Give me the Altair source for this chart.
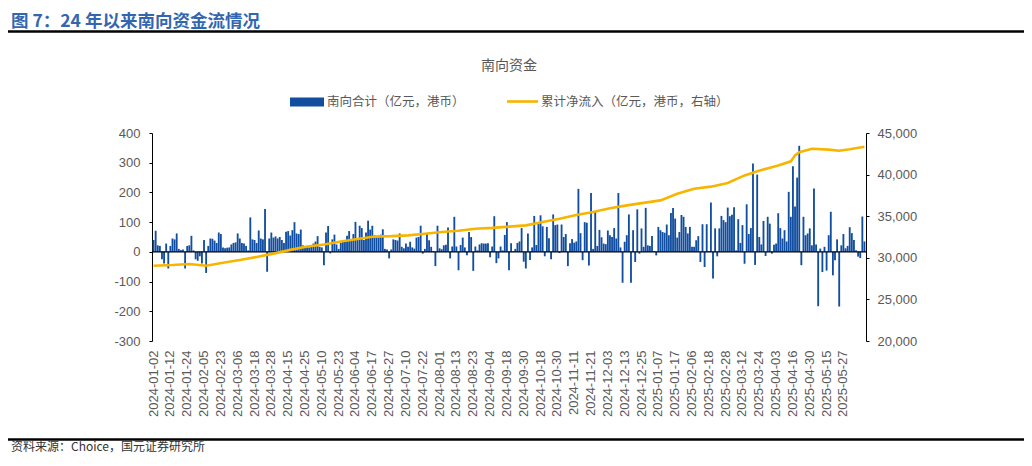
import json
import altair as alt
import pandas as pd

# daily southbound net flow (亿港元), trading-day index 0..338
flow = [
    40, 71, 22, 20, -25, -39, 28, -56,
    20, 45, 42, 62, 10, 6, 8, -56,
    20, 22, 54, 5, -25, -30, -15, -39,
    40, -71, 20, 45, 44, 38, 30, 65,
    60, 15, 12, 14, 15, 25, 30, 32,
    62, 45, 30, 28, 20, 5, 116, 42,
    40, 30, 72, 45, 42, 144, -67, 45,
    65, 48, 52, 45, 50, 40, 30, 68,
    70, 55, 73, 100, 62, 60, 75, 22,
    17, 18, 15, 20, 28, 35, 53, 17,
    15, -45, 65, 87, -5, 42, 58, 25,
    10, 30, 35, 40, 54, 70, 42, 60,
    101, 40, 88, 80, 40, 65, 105, 75,
    88, 56, 50, 55, 58, 76, 10, 8,
    -22, 8, 42, 40, 38, 62, 17, 12,
    28, 17, 34, 15, 11, 48, 50, 88,
    -6, 10, 60, 39, 17, 3, -48, 88,
    12, 9, 22, 24, 82, -22, 18, 118,
    18, -62, 23, 48, 15, -11, 67, 50,
    -64, 18, 5, 25, 29, 28, 28, 29,
    -18, 18, 120, -38, -22, 18, 5, 57,
    100, -62, 29, 2, 10, 30, 35, 80,
    -33, -56, 62, -27, 15, 121, 23, 100,
    123, 86, -15, 84, 46, -25, 126, 90,
    92, -4, 92, 50, 60, -48, 29, 43,
    31, 35, 212, 63, -28, 100, 98, -46,
    198, 10, 134, 20, 74, 49, 28, 26,
    72, 56, 50, 80, 45, 198, 15, -104,
    34, 56, 126, -104, 73, -34, 143, -6,
    79, 17, 148, 22, 20, 53, 3, -12,
    84, 73, 67, 64, 92, 56, 131, 148,
    112, 48, 67, 124, 118, 84, 62, 84,
    17, 17, 39, 53, -34, 93, -51, 93,
    3, 166, -90, 79, -15, 79, 121, 107,
    100, 149, 120, 125, 150, 5, 110, 30,
    90, -40, 160, 60, 80, 297, -44, 260,
    50, 25, 104, -14, 118, 95, -6, 24,
    28, 130, 80, 45, 73, 35, 202, 118,
    288, 153, 250, 357, -45, 118, 56, 62,
    79, 22, 213, 25, -183, 11, -68, 17,
    -63, 56, 135, -79, -28, 42, -184, 22,
    60, 12, 20, 83, 63, 40, 5, -16,
    -21, 119, 35,
]

# cumulative net inflow (亿港元, right axis), read at selected trading days
cum_day = [0, 9, 17, 25, 33, 41, 49, 57, 65, 73, 81, 89, 97, 105, 113, 121, 129,
           137, 145, 153, 161, 169, 177, 185, 193, 201, 209, 217, 225, 233, 241,
           249, 257, 265, 273, 281, 289, 297, 303, 305, 307, 313, 321, 326, 331, 338]
cum_val = [29050, 29130, 29250, 29050, 29400, 29730, 30100, 30500, 30950, 31350,
           31600, 31950, 32250, 32550, 32600, 32700, 32900, 33100, 33250, 33500,
           33600, 33750, 33900, 34300, 34700, 35150, 35500, 35950, 36300, 36600,
           36900, 37700, 38300, 38550, 39000, 39900, 40550, 41100, 41600, 42300,
           42700, 43100, 43000, 42870, 43050, 43350]

tick_labels = ["2024-01-02", "2024-01-12", "2024-01-24", "2024-02-05", "2024-02-23",
               "2024-03-06", "2024-03-18", "2024-03-28", "2024-04-15", "2024-04-25",
               "2024-05-10", "2024-05-23", "2024-06-04", "2024-06-17", "2024-06-27",
               "2024-07-10", "2024-07-22", "2024-08-01", "2024-08-13", "2024-08-23",
               "2024-09-04", "2024-09-18", "2024-09-30", "2024-10-18", "2024-10-30",
               "2024-11-11", "2024-11-21", "2024-12-03", "2024-12-13", "2024-12-25",
               "2025-01-07", "2025-01-17", "2025-02-06", "2025-02-18", "2025-02-28",
               "2025-03-12", "2025-03-24", "2025-04-03", "2025-04-16", "2025-04-30",
               "2025-05-15", "2025-05-27"]

left_ticks = [-300, -200, -100, 0, 100, 200, 300, 400]
right_ticks = [20000, 25000, 30000, 35000, 40000, 45000]

BLUE = "#124EA0"
GOLD = "#F7B500"
GRAY = "#595959"
CJK = "Noto Sans CJK SC"
LAT = "Liberation Sans"

N = len(flow)
bars_df = pd.DataFrame({"i": list(range(N)), "flow": flow})
line_df = pd.DataFrame({"i": cum_day, "cum": cum_val})
zero_df = pd.DataFrame({"flow": [0]})
one = pd.DataFrame({"a": [0]})

label_expr = json.dumps(tick_labels) + "[datum.value / 8]"

x_enc = alt.X(
    "i:O",
    scale=alt.Scale(domain=list(range(N)), paddingInner=0.12, paddingOuter=0.3),
    axis=alt.Axis(
        values=list(range(0, N, 8)), labelExpr=label_expr, labelAngle=-90,
        domain=False, ticks=False, labelPadding=9, labelOverlap=False,
        labelFontSize=13, labelFont=LAT, labelColor=GRAY, title=None,
    ),
)

def left_y():
    return alt.Y(
        "flow:Q",
        scale=alt.Scale(domain=[-300, 400], nice=False, zero=False),
        axis=alt.Axis(values=left_ticks, title=None, grid=False, domainColor="#000000",
                      tickColor="#000000", tickSize=3, labelPadding=9, labelOverlap=False,
                      labelExpr="'' + datum.value",
                      labelFontSize=13, labelFont=LAT, labelColor=GRAY),
    )

bars = alt.Chart(bars_df).mark_bar(color=BLUE).encode(x=x_enc, y=left_y())
zero_rule = alt.Chart(zero_df).mark_rule(color="#000000", strokeWidth=1.2).encode(y=left_y())
left_layer = alt.layer(bars, zero_rule)

line = alt.Chart(line_df).mark_line(color=GOLD, strokeWidth=2.6).encode(
    x=alt.X("i:O"),
    y=alt.Y(
        "cum:Q",
        scale=alt.Scale(domain=[20000, 45000], nice=False, zero=False),
        axis=alt.Axis(orient="right", values=right_ticks, title=None, grid=False,
                      labelExpr="format(datum.value, ',')", labelOverlap=False,
                      domainColor="#000000", tickColor="#000000", tickSize=3, labelPadding=8,
                      labelFontSize=13, labelFont=LAT, labelColor=GRAY),
    ),
)

def txt(s, x, y, size, color, font=CJK, weight="normal", align="left"):
    return alt.Chart(one).mark_text(
        text=s, fontSize=size, color=color, font=font, fontWeight=weight,
        align=align, baseline="middle",
    ).encode(x=alt.value(x), y=alt.value(y))

def hrule(x1, x2, y, w, color):
    return alt.Chart(one).mark_rule(color=color, strokeWidth=w).encode(
        x=alt.value(x1), x2=alt.value(x2), y=alt.value(y))

heading = txt("图 7：24 年以来南向资金流情况", -141, -111.5, 17.5, "#3366B0", weight="bold")
top_line = hrule(-144, 878, -101.5, 2.5, "#000000")
title = txt("南向资金", 357, -67, 14, GRAY, align="center")
leg_rect = alt.Chart(one).mark_rect(color=BLUE).encode(
    x=alt.value(138), x2=alt.value(172), y=alt.value(-35.5), y2=alt.value(-26.5))
leg_t1 = txt("南向合计（亿元，港币）", 175, -31, 12.5, GRAY)
leg_line = hrule(355, 386, -31.5, 2.6, GOLD)
leg_t2 = txt("累计净流入（亿元，港币，右轴）", 389, -31, 12.5, GRAY)
bottom_line = hrule(-144, 878, 306.5, 2.5, "#000000")
source = txt("资料来源：Choice，国元证券研究所", -141, 313.5, 12, "#333333")

chart = alt.layer(
    left_layer, line,
    heading, top_line, title, leg_rect, leg_t1, leg_line, leg_t2, bottom_line, source,
).resolve_scale(y="independent").properties(
    width=714, height=208,
    padding={"left": 144, "top": 125, "right": 158, "bottom": 117},
    autosize=alt.AutoSizeParams(type="none"),
    background="#ffffff",
).configure_view(stroke=None)

chart.save("out.html", embed_options={"renderer": "svg", "actions": False})
